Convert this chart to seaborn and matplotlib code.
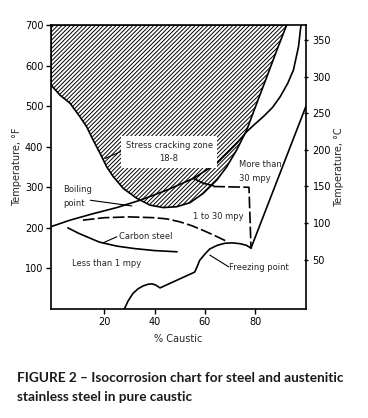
import matplotlib
matplotlib.use("Agg")
import matplotlib.pyplot as plt
import seaborn as sns

# ---- data ----
# stress cracking zone (18-8) boundary, % caustic vs °F
hatch_x = [-1.2, -1.2, 92.6, 88.7, 84.7, 80.7, 76.7, 72.7, 68.7, 64.8, 59.4, 54.1, 48.8, 43.5,
           38.2, 32.9, 27.6, 23.6, 21.0, 18.3, 15.6, 13.0, 10.4, 6.4, 2.4, -1.2]
hatch_f = [556, 700, 700, 638, 572, 507, 441, 392, 350, 318, 285, 262, 252, 250,
           256, 273, 297, 326, 350, 384, 416, 449, 473, 507, 527, 552]

# boiling point curve
boil_x = [-1.2, 6.4, 15, 25, 34.2, 44.9, 55.5, 64.8, 72.7, 76.7, 80, 83.3, 87, 90, 93, 95.3, 97.3, 98.2, 98.4]
boil_f = [203, 219, 234, 250, 268, 293, 322, 359, 408, 437, 456, 474, 497, 523, 556, 589, 646, 695, 700]

# hook from boiling curve to the 30 mpy dashed boundary
hook_x = [55.5, 59.4, 63.4]
hook_f = [322, 310, 304]

# upper dashed boundary (1-30 mpy / >30 mpy)
upper_dash_x = [63.4, 77.6, 78.4]
upper_dash_f = [302, 300, 152]

# lower dashed boundary (<1 mpy / 1-30 mpy)
lower_dash_x = [11.5, 20, 30, 40, 45, 50, 55, 60, 65, 69]
lower_dash_f = [219, 225, 227, 225, 222, 215, 205, 192, 178, 166]

# carbon steel curve
carbon_x = [5.5, 10, 18, 25, 32, 40, 49]
carbon_f = [200, 186, 165, 155, 149, 144, 141]

# freezing point curve
freeze_x = [28, 29.5, 31.5, 33.5, 35.5, 37.5, 39, 40.5, 42.2, 56, 57, 58, 60, 62, 65, 68, 71, 74, 76.6, 78.4]
freeze_f = [0, 20, 39, 50, 57, 61, 62, 59, 52, 91, 105, 120, 135, 148, 157, 162, 163, 161, 157, 150]

# >30 mpy boundary
more_x = [78.4, 100.3]
more_f = [150, 500]

x_ticks = [20, 40, 60, 80]
f_ticks = [100, 200, 300, 400, 500, 600, 700]
c_ticks = [50, 100, 150, 200, 250, 300, 350]

# ---- figure ----
sns.set_theme(style="ticks")
plt.rcParams["font.family"] = ["DejaVu Sans"]
plt.rcParams["hatch.linewidth"] = 0.7

fig = plt.figure(figsize=(3.68, 4.18), dpi=100)
ax = fig.add_axes([51/368, 1-309/418, 255/368, 284/418])

xlim = (-1.2, 100.3)
flim = (0, 700)

ax.fill(hatch_x, hatch_f, facecolor="white", edgecolor="black", hatch="////////", linewidth=1.2, zorder=1)

lw = 1.2
kw = dict(color="black", linewidth=lw, sort=False, estimator=None, ax=ax, legend=False)
sns.lineplot(x=boil_x, y=boil_f, **kw)
sns.lineplot(x=hook_x, y=hook_f, **kw)
sns.lineplot(x=carbon_x, y=carbon_f, **kw)
sns.lineplot(x=freeze_x, y=freeze_f, **kw)
sns.lineplot(x=more_x, y=more_f, **kw)
sns.lineplot(x=upper_dash_x, y=upper_dash_f, linestyle=(0, (7, 2)), **kw)
sns.lineplot(x=lower_dash_x, y=lower_dash_f, linestyle=(0, (7, 2)), **kw)

ax.set_xlim(*xlim)
ax.set_ylim(*flim)
ax.set_xticks(x_ticks)
ax.set_yticks(f_ticks)
ax.tick_params(axis="both", labelsize=7, length=3.5, width=1, direction="out", pad=2, colors="black")
for s in ax.spines.values():
    s.set_linewidth(1.2)
    s.set_color("black")
    s.set_visible(True)
ax.set_xlabel("% Caustic", fontsize=7, labelpad=5)
ax.set_ylabel("Temperature, °F", fontsize=7, labelpad=2)

ax2 = ax.twinx()
ax2.set_ylim((flim[0]-32)*5/9, (flim[1]-32)*5/9)
ax2.set_yticks(c_ticks)
ax2.tick_params(axis="y", labelsize=7, length=3.5, width=1, direction="inout", pad=3, colors="black")
for s in ax2.spines.values():
    s.set_visible(False)
ax2.set_ylabel("Temperature, °C", fontsize=7, labelpad=2)

# annotations
fs = 6
ax.text(45.8, 387, "Stress cracking zone\n18-8", fontsize=fs, ha="center", va="center",
        linespacing=1.7, bbox=dict(facecolor="white", edgecolor="none", pad=3), zorder=5)
ax.plot([29.6, 20.3], [396, 371], color="black", lw=0.8)
ax.text(3.6, 277, "Boiling\npoint", fontsize=fs, ha="left", va="center", linespacing=1.7)
ax.plot([14.5, 31], [268, 254], color="black", lw=0.8)
ax.text(26, 179, "Carbon steel", fontsize=fs, ha="left", va="center")
ax.plot([25, 19.5], [178, 163], color="black", lw=0.8)
ax.text(21, 113, "Less than 1 mpy", fontsize=fs, ha="center", va="center")
ax.text(65.3, 228, "1 to 30 mpy", fontsize=fs, ha="center", va="center")
ax.text(73.5, 340, "More than\n30 mpy", fontsize=fs, ha="left", va="center", linespacing=1.7)
ax.text(69.5, 102, "Freezing point", fontsize=fs, ha="left", va="center")
ax.plot([69.5, 62], [104, 133], color="black", lw=0.8)

fig.text(17/368, 1-378/418, "FIGURE 2 \u2013 Isocorrosion chart for steel and austenitic",
         fontsize=9.8, fontweight="bold", family="Lato", ha="left", va="center", color="#1a1a1a")
fig.text(17/368, 1-397/418, "stainless steel in pure caustic",
         fontsize=9.8, fontweight="bold", family="Lato", ha="left", va="center", color="#1a1a1a")

fig.savefig("out.png", dpi=100)
